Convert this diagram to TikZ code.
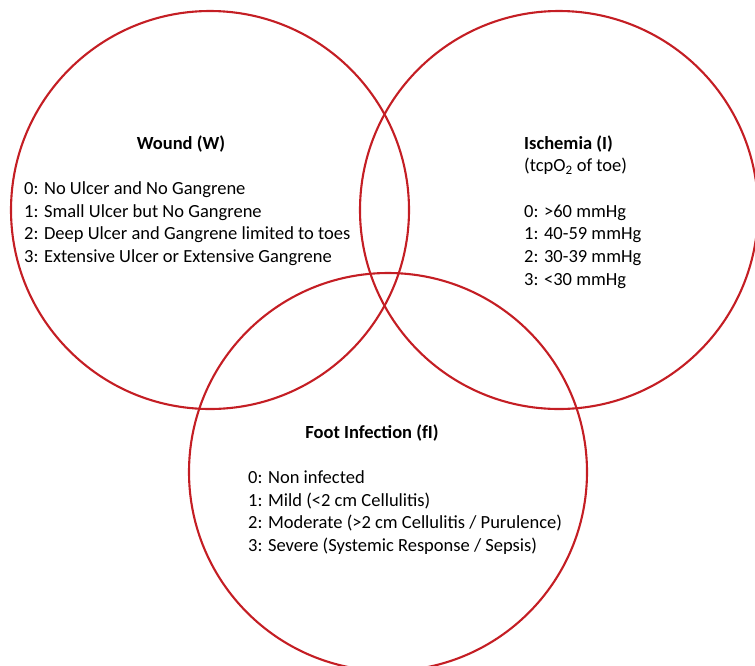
\documentclass[tikz,border=0pt]{standalone}
\usepackage{fontspec}
\setmainfont{Carlito}
\usepackage{xcolor}
\usetikzlibrary{positioning}
\definecolor{vennred}{RGB}{196,30,36}

\begin{document}
\begin{tikzpicture}[x=1pt, y=-1pt,
  venn/.style={circle, draw=vennred, line width=2.1pt, minimum size=398pt, inner sep=0pt},
  head/.style={font=\fontsize{18.5}{22.7}\selectfont\bfseries, inner sep=0pt, anchor=base},
  items/.style={font=\fontsize{18.5}{22.7}\selectfont, align=left, inner sep=0pt, anchor=base west}]
\useasboundingbox (0,0) rectangle (755,665);
\clip (0,0) rectangle (755,665);
% the three sets
\node[venn] (woundset) at (210,210) {};
\node[venn] (ischemiaset) at (559,210) {};
\node[venn] (infectionset) at (388,472) {};

% wound (list placed at its last baseline)
\node[head] (wound) at (181,149) {Wound (W)};
\node[items] (woundlist) at (24,262.5) {0: No Ulcer and No Gangrene\\1: Small Ulcer but No Gangrene\\2: Deep Ulcer and Gangrene limited to toes\\3: Extensive Ulcer or Extensive Gangrene};

% ischemia
\node[head, anchor=base west] (ischemia) at (524,149) {Ischemia (I)};
\node[items] (ischemialist) at (524,285.2) {(tcpO\textsubscript{2} of toe)\\[22.7pt]0: >60 mmHg\\1: 40-59 mmHg\\2: 30-39 mmHg\\3: <30 mmHg};

% foot infection
\node[head] (infection) at (372,438) {Foot Infection (fI)};
\node[items] (infectionlist) at (248,551.5) {0: Non infected\\1: Mild (<2 cm Cellulitis)\\2: Moderate (>2 cm Cellulitis / Purulence)\\3: Severe (Systemic Response / Sepsis)};
\end{tikzpicture}
\end{document}
